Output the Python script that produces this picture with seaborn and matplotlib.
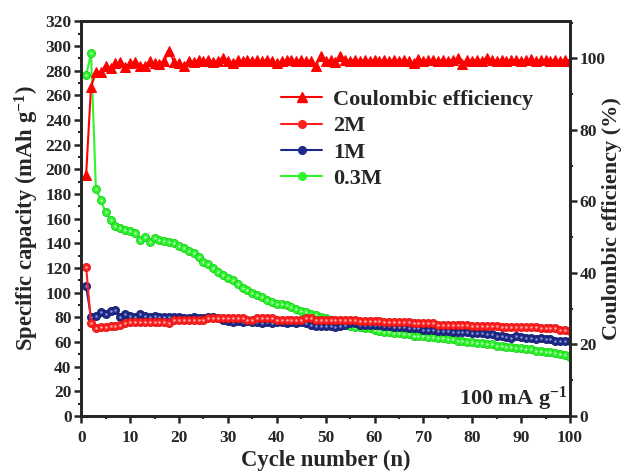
import numpy as np
import pandas as pd
import matplotlib
matplotlib.use("Agg")
import matplotlib.pyplot as plt
from matplotlib.ticker import MultipleLocator
from matplotlib.lines import Line2D
import seaborn as sns

cycles = list(range(1, 101))

cap_2M = [121, 75, 71, 72, 72, 73, 73, 74, 75, 76, 76, 76, 76, 76, 76, 76, 76, 75, 78, 78,
          78, 78, 78, 78, 78, 79, 79, 79, 79, 79, 79, 79, 79, 78, 78, 79, 79, 79, 79, 78,
          78, 78, 78, 78, 78, 79, 79, 78, 78, 78, 78, 78, 78, 78, 78, 78, 77, 77, 77, 77,
          77, 76, 76, 76, 76, 76, 76, 75, 75, 75, 75, 75, 74, 74, 74, 74, 74, 74, 74, 73,
          73, 73, 73, 73, 73, 72, 72, 72, 72, 72, 72, 72, 72, 71, 71, 71, 71, 70, 70, 69]

cap_1M = [105, 80, 81, 84, 83, 85, 86, 80, 83, 81, 80, 83, 81, 80, 81, 80, 80, 80, 80, 80,
          79, 79, 80, 79, 79, 80, 80, 79, 78, 77, 76, 77, 76, 77, 76, 76, 75, 76, 75, 76,
          76, 75, 76, 75, 76, 75, 74, 73, 73, 73, 73, 72, 73, 74, 75, 75, 74, 74, 74, 74,
          74, 73, 73, 72, 72, 72, 71, 71, 71, 70, 70, 70, 69, 69, 69, 68, 68, 68, 68, 67,
          67, 67, 66, 66, 65, 65, 64, 63, 65, 64, 63, 63, 62, 63, 62, 62, 61, 61, 61, 61]

cap_03M = [276, 294, 184, 175, 165, 159, 154, 152, 151, 150, 148, 143, 145, 141, 144, 143, 142, 141, 140, 138,
           136, 134, 132, 129, 125, 123, 120, 117, 114, 112, 110, 107, 104, 102, 100, 98, 96, 94, 92, 91,
           91, 90, 88, 87, 85, 84, 83, 82, 80, 79, 78, 76, 75, 74, 73, 72, 72, 71, 71, 70,
           69, 68, 68, 67, 67, 66, 66, 65, 65, 65, 64, 64, 63, 63, 62, 62, 61, 61, 60, 60,
           59, 59, 58, 58, 57, 57, 56, 56, 55, 55, 54, 54, 53, 53, 52, 52, 51, 50, 49, 48]

ce = [67.5, 92.0, 96.2, 96.2, 98.0, 97.2, 98.6, 99.0, 97.6, 98.6, 99.0, 98.0, 98.0, 99.2, 98.6, 98.3, 99.4, 102.0, 99.0, 98.6,
      97.8, 99.4, 99.0, 99.5, 99.2, 99.6, 99.0, 99.4, 100.2, 99.3, 98.8, 99.5, 99.2, 99.6, 99.3, 99.5, 99.2, 99.6, 99.3, 98.6,
      99.3, 99.5, 99.6, 99.2, 99.5, 99.2, 99.4, 97.8, 100.8, 99.3, 99.5, 98.9, 100.8, 99.5, 99.4, 99.6, 99.3, 99.5, 99.4, 99.6,
      99.3, 99.5, 99.3, 99.5, 99.4, 99.6, 99.3, 98.6, 99.7, 99.4, 99.5, 99.6, 99.3, 99.5, 99.4, 99.6, 100.0, 98.5, 99.5, 99.4,
      99.6, 99.3, 100.2, 99.5, 99.4, 99.6, 99.3, 99.5, 99.6, 99.4, 99.5, 99.7, 99.3, 99.5, 99.6, 99.4, 99.5, 99.3, 99.6, 99.4]

labels = ["Coulombic efficiency", "2M", "1M", "0.3M"]
col_ce = "#FF0000"
col_2M = "#FF2020"
col_1M = "#1E2A8A"
col_03 = "#2EF52E"

sns.set_style("ticks")
plt.rcParams['font.family'] = ['Liberation Serif', 'DejaVu Serif']
plt.rcParams['font.weight'] = 'bold'
plt.rcParams['mathtext.default'] = 'regular'

df = pd.DataFrame({"cycle": cycles, "c2": cap_2M, "c1": cap_1M, "c03": cap_03M, "ce": ce})

fig = plt.figure(figsize=(6.25, 4.71), dpi=100)
ax = fig.add_axes([0.13, 0.117, 0.782, 0.838])
ax2 = ax.twinx()

ms = 5.8
def draw(a, y, c, edge, light):
    sns.lineplot(data=df, x="cycle", y=y, ax=a, color=c, lw=1.5, marker="o", markersize=ms,
                 markeredgecolor=edge, markeredgewidth=0.6, legend=False)
    a.plot(df["cycle"], df[y], ls="none", marker="o", markersize=1.8, color=light,
           markeredgewidth=0, alpha=0.85)

draw(ax, "c03", col_03, "#1ACC1A", "#CCFFCC")
draw(ax, "c1", col_1M, "#141E6E", "#9FA8E0")
draw(ax, "c2", col_2M, "#E01010", "#FFC8C8")

sns.lineplot(data=df, x="cycle", y="ce", ax=ax2, color=col_ce, lw=1.5, marker="^",
             markersize=7.2, markeredgecolor=col_ce, legend=False)

ax.set_xlim(0, 100)
ax.set_ylim(0, 320)
ax2.set_ylim(0, 110.4)
ax.xaxis.set_major_locator(MultipleLocator(10))
ax.xaxis.set_minor_locator(MultipleLocator(5))
ax.yaxis.set_major_locator(MultipleLocator(20))
ax.yaxis.set_minor_locator(MultipleLocator(10))
ax2.set_yticks([0, 20, 40, 60, 80, 100])
ax2.yaxis.set_minor_locator(MultipleLocator(10))

for a in (ax, ax2):
    for s in a.spines.values():
        s.set_linewidth(2)
        s.set_visible(True)
    a.tick_params(which='major', direction='out', length=5, width=1.8, labelsize=12.5, pad=2)
    a.tick_params(which='minor', direction='out', length=2.5, width=1.5)
ax.tick_params(axis='y', which='both', right=False)
ax.tick_params(axis='x', which='major', pad=5)
ax2.tick_params(axis='y', which='both', left=False)

for lab in ax.get_xticklabels() + ax.get_yticklabels() + ax2.get_yticklabels():
    lab.set_fontweight('bold')

ax.set_xlabel("Cycle number (n)", fontsize=16.3, fontweight='bold', labelpad=3)
ax.set_ylabel("Specific capacity (mAh g$^{-1}$)", fontsize=16.3, fontweight='bold', labelpad=3)
ax2.set_ylabel("Coulombic efficiency (%)", fontsize=16, fontweight='bold', labelpad=-3)

ax.text(0.995, 0.008, "100 mA g$^{-1}$", transform=ax.transAxes, ha='right', va='bottom',
        fontsize=16, fontweight='bold')

handles = [
    Line2D([], [], color=col_ce, lw=1.5, marker="^", markersize=7),
    Line2D([], [], color=col_2M, lw=1.5, marker="o", markersize=5.5),
    Line2D([], [], color=col_1M, lw=1.5, marker="o", markersize=5.5),
    Line2D([], [], color=col_03, lw=1.5, marker="o", markersize=5.5),
]
fig.legend(handles, labels, loc='upper left', bbox_to_anchor=(0.45, 0.81), frameon=False,
           prop={'family': 'Liberation Serif', 'weight': 'bold', 'size': 16},
           handlelength=1.85, handletextpad=0.5, labelspacing=0.26, borderpad=0, borderaxespad=0)

fig.savefig("out.png", dpi=100)
